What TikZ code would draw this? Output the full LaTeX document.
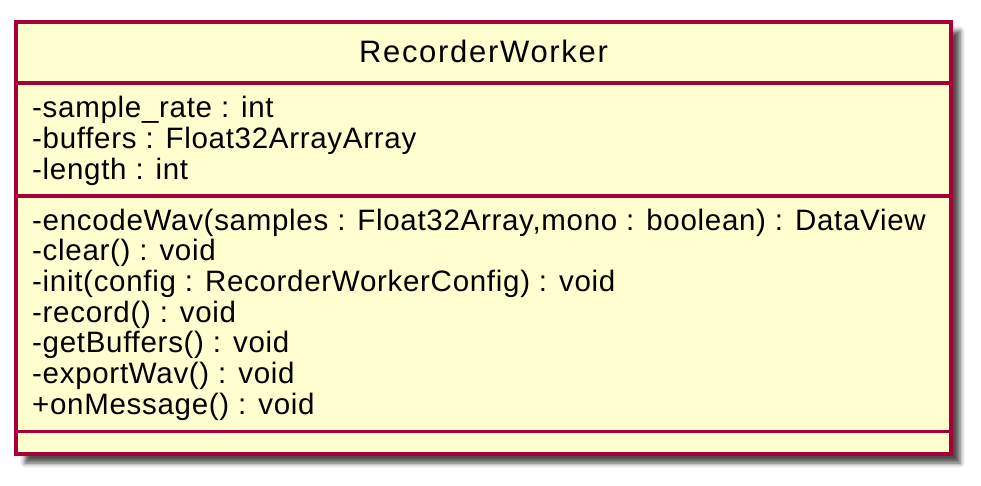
\documentclass[tikz,border=0pt]{standalone}
\usepackage{fontspec}
\setmainfont{Liberation Sans}
\newfontfamily\umlbodyfont[LetterSpace=2.4]{Liberation Sans}
\newfontfamily\umltitlefont[LetterSpace=5.5]{Liberation Sans}
\usetikzlibrary{shadows.blur}
\definecolor{umlfill}{HTML}{FEFECE}
\definecolor{umlborder}{HTML}{A80036}
\tikzset{
  classbox/.style={draw=umlborder, fill=umlfill, line width=3.5pt,
    blur shadow={shadow xshift=9pt, shadow yshift=-9pt, shadow blur radius=5pt, shadow opacity=70}},
  divider/.style={draw=umlborder, line width=3.5pt},
  member/.style={anchor=base west, inner sep=0pt, font=\umlbodyfont\fontsize{29.5}{34}\selectfont},
  title/.style={anchor=base, inner sep=0pt, font=\umltitlefont\fontsize{31}{36}\selectfont}
}
\begin{document}
\begin{tikzpicture}[x=1pt,y=-1pt]
\useasboundingbox (0,0) rectangle (981,485);
\path[classbox] (16,22) rectangle (951,454);
\coordinate (d1l) at (16,83);  \coordinate (d1r) at (951,83);
\coordinate (d2l) at (16,196); \coordinate (d2r) at (951,196);
\coordinate (d3l) at (16,431.5); \coordinate (d3r) at (951,431.5);
\draw[divider] (d1l) -- (d1r);
\draw[divider] (d2l) -- (d2r);
\draw[divider] (d3l) -- (d3r);
\node[title] (name) at (483.5,62) {RecorderWorker};
\node[member] (a1) at (32,117) {-sample\_rate : int};
\node[member] (a2) at (32,148) {-buffers : Float32ArrayArray};
\node[member] (a3) at (32,179) {-length : int};
\node[member] (m1) at (32,230) {-encodeWav(samples : Float32Array,mono : boolean) : DataView};
\node[member] (m2) at (32,260.7) {-clear() : void};
\node[member] (m3) at (32,291.4) {-init(config : RecorderWorkerConfig) : void};
\node[member] (m4) at (32,322.1) {-record() : void};
\node[member] (m5) at (32,352.8) {-getBuffers() : void};
\node[member] (m6) at (32,383.5) {-exportWav() : void};
\node[member] (m7) at (32,414.2) {+onMessage() : void};
\end{tikzpicture}
\end{document}
